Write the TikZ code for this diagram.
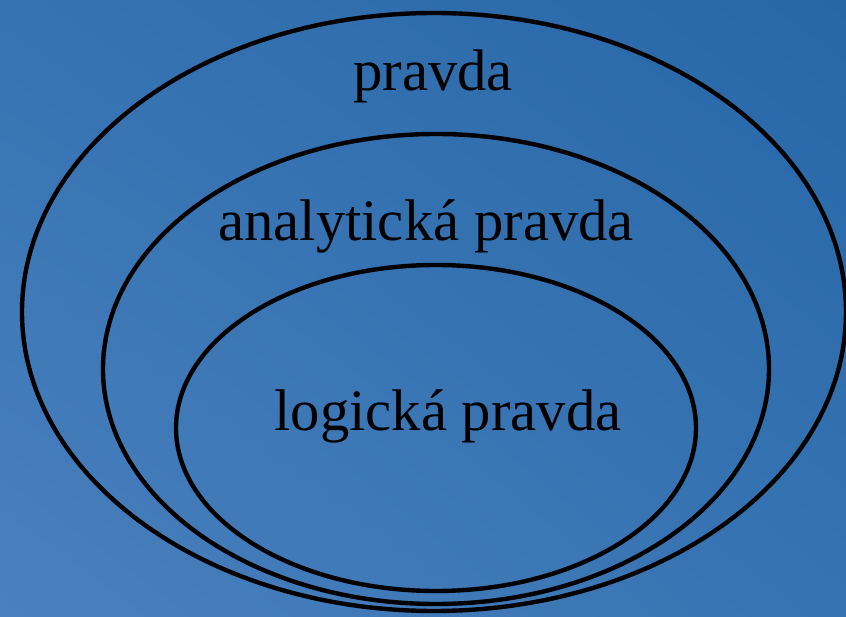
\documentclass[tikz,border=0pt]{standalone}
\usepackage{fontspec}
\setmainfont{Liberation Serif}
\usetikzlibrary{shapes.geometric, shadings}

\definecolor{bgdark}{HTML}{2767A8}
\definecolor{bgmid}{HTML}{3673B2}
\definecolor{bglight}{HTML}{4A80BE}

\begin{document}
\begin{tikzpicture}[x=1pt, y=-1pt, font=\fontsize{58.7}{68}\selectfont,
	ring/.style={draw=black, line width=4.4pt, ellipse, inner sep=0pt},
	tag/.style={text=black, inner sep=0pt}]
	\shade[lower left=bglight, upper right=bgdark, upper left=bgmid, lower right=bgmid] (0,0) rectangle (846,617);
	\useasboundingbox (0,0) rectangle (846,617);
	\node[ring, minimum width=824pt, minimum height=598pt] (truth) at (434,312) {};
	\node[ring, minimum width=666pt, minimum height=470pt] (analytic) at (436,369) {};
	\node[ring, minimum width=520pt, minimum height=326pt] (logic) at (436,428) {};
	\node[tag] (truthlbl) at (433,76) {pravda};
	\node[tag] (analyticlbl) at (426,226) {analytická pravda};
	\node[tag] (logiclbl) at (448,416) {logická pravda};
\end{tikzpicture}
\end{document}
